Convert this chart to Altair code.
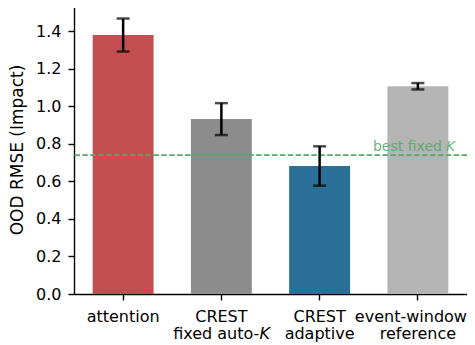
import altair as alt
import pandas as pd

methods = ["attention", "CREST fixed auto-K", "CREST adaptive", "event-window reference"]
label_line1 = ["attention", "CREST", "CREST", "event-window"]
label_line2 = ["", "fixed auto-", "adaptive", "reference"]
label_italic = ["", "K", "", ""]
label_edge = [False, False, False, True]
rmse = [1.38, 0.932, 0.682, 1.107]
err = [0.088, 0.085, 0.105, 0.017]
colors = ["#c44e52", "#8c8c8c", "#2a6f97", "#b4b4b4"]
best_fixed = 0.74
best_label = "best fixed"
best_label_italic = "K"

FONT = "DejaVu Sans"

df = pd.DataFrame({
    "method": methods,
    "rmse": rmse,
    "lo": [v - e for v, e in zip(rmse, err)],
    "hi": [v + e for v, e in zip(rmse, err)],
    "color": colors,
    "l1": label_line1,
    "l2": label_line2,
    "l2i": label_italic,
    "edge": label_edge,
})

xscale = alt.Scale(domain=methods, paddingInner=0.38, paddingOuter=0.19)
yscale = alt.Scale(domain=[0, 1.54], nice=False, zero=True)
xenc = alt.X("method:N", scale=xscale, sort=methods)

x = alt.X("method:N", scale=xscale, sort=methods,
          axis=alt.Axis(title=None, labels=False, ticks=True, tickSize=6,
                        tickColor="black", tickWidth=1.4, domainColor="black",
                        domainWidth=1.4))
y = alt.Y("rmse:Q", scale=yscale,
          axis=alt.Axis(title="OOD RMSE (Impact)", values=[0, 0.2, 0.4, 0.6, 0.8, 1.0, 1.2, 1.4],
                        format=".1f", grid=False, tickSize=6, tickColor="black",
                        tickWidth=1.4, domainColor="black", domainWidth=1.4,
                        labelFont=FONT, labelFontSize=16, labelColor="black", labelPadding=7,
                        titleFont=FONT, titleFontSize=17, titleFontWeight="normal",
                        titleColor="black", titlePadding=9))

base = alt.Chart(df)

bars = base.mark_bar().encode(
    x=x, y=y,
    color=alt.Color("color:N", scale=None),
)

errs = base.mark_rule(color="black", strokeWidth=2.5).encode(
    x=xenc,
    y=alt.Y("lo:Q", scale=yscale),
    y2="hi:Q",
)
cap_lo = base.mark_tick(color="black", size=13, thickness=2.5, orient="horizontal").encode(
    x=xenc,
    y=alt.Y("lo:Q", scale=yscale),
)
cap_hi = base.mark_tick(color="black", size=13, thickness=2.5, orient="horizontal").encode(
    x=xenc,
    y=alt.Y("hi:Q", scale=yscale),
)

ref_df = pd.DataFrame({"v": [best_fixed], "method": [methods[-1]],
                       "t1": [best_label], "t2": [best_label_italic]})
ref = alt.Chart(ref_df).mark_rule(color="#55a868", strokeWidth=1.6,
                                  strokeDash=[5.5, 2.4]).encode(
    y=alt.Y("v:Q", scale=yscale),
)
ref_t1 = alt.Chart(ref_df).mark_text(font=FONT, fontSize=14, color="#55a868", opacity=0.85,
                                     align="right", baseline="alphabetic", dx=24, dy=-4).encode(
    x=xenc,
    y=alt.Y("v:Q", scale=yscale),
    text="t1:N",
)
ref_t2 = alt.Chart(ref_df).mark_text(font=FONT, fontSize=14, color="#55a868", opacity=0.85,
                                     fontStyle="italic", align="left", baseline="alphabetic",
                                     dx=28, dy=-4).encode(
    x=xenc,
    y=alt.Y("v:Q", scale=yscale),
    text="t2:N",
)

LINE1_Y = 316.5
LINE2_Y = 333.5


def label_layer(field, filt, ypos, dx=0, align="center", italic=False):
    kw = dict(font=FONT, fontSize=16, color="black", align=align,
              baseline="alphabetic", dx=dx)
    if italic:
        kw["fontStyle"] = "italic"
    return base.transform_filter(filt).mark_text(**kw).encode(
        x=xenc, y=alt.value(ypos), text=f"{field}:N")


lab1 = label_layer("l1", "!datum.edge", LINE1_Y)
lab1e = label_layer("l1", "datum.edge", LINE1_Y, dx=-7)
lab2 = label_layer("l2", "datum.l2i == ''", LINE2_Y)
lab2a = label_layer("l2", "datum.l2i != ''", LINE2_Y, dx=38, align="right")
lab2b = label_layer("l2i", "datum.l2i != ''", LINE2_Y, dx=38, align="left", italic=True)

chart = alt.layer(
    bars, ref, errs, cap_lo, cap_hi, ref_t1, ref_t2,
    lab1, lab1e, lab2, lab2a, lab2b,
).properties(
    width=393, height=289,
    autosize=alt.AutoSizeParams(type="none"),
    padding={"left": 66, "top": -3, "right": 0, "bottom": 49},
).configure_view(stroke=None).configure(font=FONT)

chart.save("out.html", embed_options={"renderer": "svg", "actions": False})
